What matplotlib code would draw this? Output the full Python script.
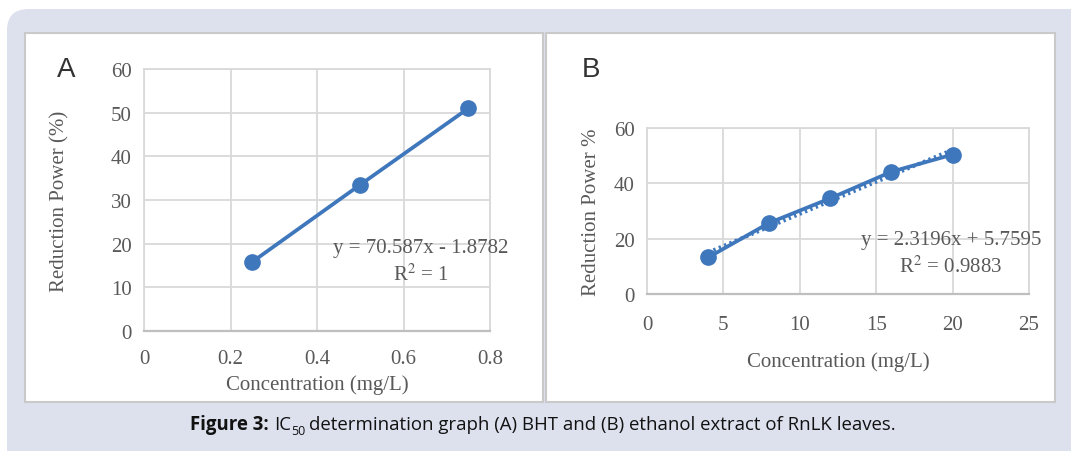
import matplotlib
matplotlib.use("Agg")
import matplotlib.pyplot as plt
from matplotlib.patches import Rectangle, FancyBboxPatch
import numpy as np

# data
conc_a = [0.25, 0.5, 0.75]
power_a = [15.8, 33.5, 51.0]
conc_b = [4, 8, 12, 16, 20]
power_b = [13.2, 25.7, 34.6, 44.2, 50.4]
trend_b = (2.3196, 5.7595)  # slope, intercept

W, H = 1071, 452
BLUE = '#3f77bc'
GRAY_TXT = '#595959'
GRID = '#d9d9d9'
FS = 15

fig = plt.figure(figsize=(W / 100, H / 100), dpi=100)
fig.patch.set_facecolor('white')


def fx(x):
    return x / W


def fy(y):
    return 1 - y / H


def box(l, t, r, b):
    return [fx(l), fy(b), (r - l) / W, (b - t) / H]


def ptext(x, y, s, **kw):
    return fig.text(fx(x), fy(y), s, **kw)


# background of the figure block
bg = FancyBboxPatch((fx(7), fy(470)), fx(1100), (470 - 10) / H,
                    boxstyle='round,pad=0,rounding_size=0.02',
                    transform=fig.transFigure, facecolor='#dde1ee',
                    edgecolor='none', zorder=-2, mutation_aspect=W / H)
fig.patches.append(bg)

# the two white panels
for l, t, r, b in [(25, 34, 543, 403), (546, 34, 1055, 403)]:
    fig.patches.append(Rectangle((fx(l), fy(b)), (r - l) / W, (b - t) / H,
                                 transform=fig.transFigure, facecolor='white',
                                 edgecolor='#c9c9c9', linewidth=1.5, zorder=-1))

serif = 'Liberation Serif'


def style(ax, xt, yt):
    ax.set_facecolor('white')
    ax.set_xticks(xt)
    ax.set_yticks(yt)
    ax.grid(True, color=GRID, linewidth=1.3)
    ax.set_axisbelow(True)
    for s in ax.spines.values():
        s.set_color(GRID)
        s.set_linewidth(1.3)
    ax.spines['bottom'].set_color('#bfbfbf')
    ax.spines['bottom'].set_linewidth(1.6)
    ax.tick_params(length=0, labelsize=FS, labelcolor=GRAY_TXT)
    for lab in ax.get_xticklabels() + ax.get_yticklabels():
        lab.set_fontfamily(serif)


# panel A
axa = fig.add_axes(box(144, 70, 490, 332), zorder=2)
axa.set_xlim(0, 0.8)
axa.set_ylim(0, 60)
style(axa, [0, 0.2, 0.4, 0.6, 0.8], [0, 10, 20, 30, 40, 50, 60])
axa.set_xticklabels(['0', '0.2', '0.4', '0.6', '0.8'])
axa.tick_params(axis='x', pad=13)
axa.tick_params(axis='y', pad=9)
axa.plot(conc_a, power_a, color=BLUE, lw=2.7, marker='o', ms=11, zorder=3)

ptext(317, 385, 'Concentration (mg/L)', ha='center', va='center',
      fontsize=FS, family=serif, color=GRAY_TXT)
ptext(60, 201, 'Reduction Power (%)', ha='center', va='center', rotation=90,
      fontsize=FS, family=serif, color=GRAY_TXT)
ptext(421, 249, 'y = 70.587x - 1.8782', ha='center', va='center',
      fontsize=FS, family=serif, color=GRAY_TXT, zorder=5)
ptext(421, 275, 'R$^2$ = 1', ha='center', va='center',
      fontsize=FS, family=serif, color=GRAY_TXT, math_fontfamily='stix', zorder=5)
ptext(66, 70, 'A', ha='center', va='center', fontsize=20,
      family='Liberation Sans', color='#333333')

# panel B
axb = fig.add_axes(box(647, 129, 1029, 295), zorder=2)
axb.set_xlim(0, 25)
axb.set_ylim(0, 60)
style(axb, [0, 5, 10, 15, 20, 25], [0, 20, 40, 60])
axb.tick_params(axis='x', pad=15)
axb.tick_params(axis='y', pad=9)
tx = np.array([conc_b[0], conc_b[-1]])
axb.plot(tx, trend_b[0] * tx + trend_b[1], color=BLUE, lw=2.8,
         linestyle=(0, (0.6, 0.9)), zorder=2)
axb.plot(conc_b, power_b, color=BLUE, lw=2.7, marker='o', ms=11, zorder=3)

ptext(838, 362, 'Concentration (mg/L)', ha='center', va='center',
      fontsize=FS, family=serif, color=GRAY_TXT)
ptext(591, 212, 'Reduction Power %', ha='center', va='center', rotation=90,
      fontsize=FS, family=serif, color=GRAY_TXT)
ptext(951, 240, 'y = 2.3196x + 5.7595', ha='center', va='center',
      fontsize=FS, family=serif, color=GRAY_TXT, zorder=5)
ptext(951, 267, 'R$^2$ = 0.9883', ha='center', va='center',
      fontsize=FS, family=serif, color=GRAY_TXT, math_fontfamily='stix', zorder=5)
ptext(591, 70, 'B', ha='center', va='center', fontsize=20,
      family='Liberation Sans', color='#333333')

# caption, built from pieces so the bold part and the subscript sit right
cap_fs = 13.4
pieces = [
    ('Figure 3:', dict(fontweight='bold'), 0, 5),
    ('IC', {}, 0, 0),
    ('50', dict(fontsize=9), 5, 4),
    ('determination graph (A) BHT and (B) ethanol extract of RnLK leaves.', {}, 0, 0),
]
renderer = fig.canvas.get_renderer()
texts = []
total = 0
for s, kw, dy, gap in pieces:
    opts = dict(fontsize=cap_fs, family='Open Sans', color='#111111',
                ha='left', va='baseline')
    opts.update(kw)
    t = ptext(0, 430 + dy, s, **opts)
    w = t.get_window_extent(renderer).width
    texts.append((t, w, dy, gap))
    total += w + gap
x = 543 - total / 2
for t, w, dy, gap in texts:
    t.set_position((fx(x), fy(430 + dy)))
    x += w + gap

fig.savefig('out.png', dpi=100, facecolor='white')
